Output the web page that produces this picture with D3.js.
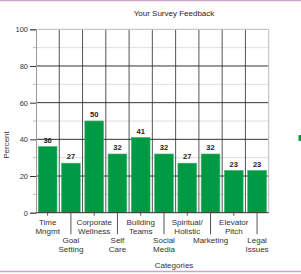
<!DOCTYPE html>
<html>
<head>
<meta charset="utf-8">
<script src="https://cdn.jsdelivr.net/npm/d3@7"></script>
<style>
  body { margin: 0; background: #fff; }
  svg { display: block; font-family: "Liberation Sans", Arial, sans-serif; }
</style>
</head>
<body>
<div id="chart"></div>
<script>
// survey chart data
const categories = [
  ['Time', 'Mngmt'], ['Goal', 'Setting'], ['Corporate', 'Wellness'], ['Self', 'Care'],
  ['Building', 'Teams'], ['Social', 'Media'], ['Spiritual/', 'Holistic'], ['Marketing'],
  ['Elevator', 'Pitch'], ['Legal', 'Issues']
];
const percents = [36, 27, 50, 32, 41, 32, 27, 32, 23, 23];
const yTicks = [0, 20, 40, 60, 80, 100];
const yMinor = [10, 30, 50, 70, 90];

const W = 301, H = 274;
const plotL = 36, plotR = 268.7, plotT = 29.3, plotB = 212.7;

const svg = d3.select('#chart').append('svg')
  .attr('width', W).attr('height', H);

// pinkish rules at the top and bottom of the image
svg.append('line').attr('x1', 0).attr('x2', W).attr('y1', 0.5).attr('y2', 0.5)
  .attr('stroke', '#c9a3c9').attr('stroke-width', 1.5);
svg.append('line').attr('x1', 0).attr('x2', W).attr('y1', 271.5).attr('y2', 271.5)
  .attr('stroke', '#c9a3c9').attr('stroke-width', 1.5);

const x = d3.scaleBand().domain(d3.range(categories.length)).range([plotL, plotR]).padding(0);
const y = d3.scaleLinear().domain([0, 100]).range([plotB, plotT]);

// minor horizontal grid
svg.append('g').selectAll('line').data(yMinor).join('line')
  .attr('x1', plotL).attr('x2', plotR)
  .attr('y1', d => y(d)).attr('y2', d => y(d))
  .attr('stroke', '#dedede').attr('stroke-width', 1);

// vertical grid at band edges
svg.append('g').selectAll('line').data(d3.range(1, categories.length)).join('line')
  .attr('x1', d => x(d)).attr('x2', d => x(d))
  .attr('y1', plotT).attr('y2', plotB)
  .attr('stroke', '#555').attr('stroke-width', 1);

// major horizontal grid
svg.append('g').selectAll('line').data(yTicks.filter(d => d > 0 && d < 100)).join('line')
  .attr('x1', plotL).attr('x2', plotR)
  .attr('y1', d => y(d)).attr('y2', d => y(d))
  .attr('stroke', '#333').attr('stroke-width', 1);

// plot frame (top / right)
svg.append('line').attr('x1', plotL).attr('x2', plotR).attr('y1', plotT).attr('y2', plotT)
  .attr('stroke', '#bbb');
svg.append('line').attr('x1', plotR).attr('x2', plotR).attr('y1', plotT).attr('y2', plotB)
  .attr('stroke', '#bbb');

// bars
svg.append('g').selectAll('rect').data(percents).join('rect')
  .attr('x', (d, i) => x(i) + 2.3)
  .attr('width', x.bandwidth() - 4.6)
  .attr('y', d => y(d))
  .attr('height', d => y(0) - y(d))
  .attr('fill', '#009944')
  .attr('stroke', '#3aae6a').attr('stroke-width', 0.6);

// value labels
svg.append('g').selectAll('text').data(percents).join('text')
  .attr('x', (d, i) => x(i) + x.bandwidth() / 2)
  .attr('y', d => y(d) - 4)
  .attr('text-anchor', 'middle')
  .attr('font-size', 7.5).attr('font-weight', 'bold').attr('fill', '#222')
  .text(d => d);

// y axis
const yAxis = svg.append('g')
  .attr('transform', `translate(${plotL},0)`)
  .call(d3.axisLeft(y).tickValues(yTicks).tickSize(6).tickPadding(2));
yAxis.select('.domain').attr('stroke', '#999');
yAxis.selectAll('.tick line').attr('stroke', '#333');
yAxis.selectAll('.tick text').attr('font-size', 7.5).attr('fill', '#333')
  .attr('font-family', '"Liberation Sans", Arial, sans-serif');
svg.append('g').selectAll('line').data(yMinor).join('line')
  .attr('x1', plotL - 3).attr('x2', plotL)
  .attr('y1', d => y(d)).attr('y2', d => y(d))
  .attr('stroke', '#bbb');

// x axis line
svg.append('line').attr('x1', plotL).attr('x2', plotR).attr('y1', plotB).attr('y2', plotB)
  .attr('stroke', '#333');

// staggered category labels and ticks
const catG = svg.append('g').selectAll('g').data(categories).join('g')
  .attr('transform', (d, i) => `translate(${x(i) + x.bandwidth() / 2},${plotB})`);
catG.append('line')
  .attr('y1', 0).attr('y2', (d, i) => i % 2 ? 21.5 : 3)
  .attr('stroke', '#555');
catG.each(function(d, i) {
  const g = d3.select(this);
  const y0 = i % 2 ? 30.5 : 11.9;
  d.forEach((line, k) => {
    g.append('text')
      .attr('y', y0 + k * 9.3)
      .attr('text-anchor', 'middle')
      .attr('font-size', 8).attr('fill', '#333')
      .text(line);
  });
});

// titles
svg.append('text').attr('x', 174).attr('y', 15.7).attr('text-anchor', 'middle')
  .attr('font-size', 8).attr('fill', '#222').text('Your Survey Feedback');
svg.append('text').attr('x', 174).attr('y', 267.7).attr('text-anchor', 'middle')
  .attr('font-size', 8).attr('fill', '#333').text('Categories');
svg.append('text')
  .attr('transform', 'translate(9,145) rotate(-90)')
  .attr('text-anchor', 'middle')
  .attr('font-size', 8).attr('fill', '#333').text('Percent');

// legend swatch, mostly cut off at the right edge
svg.append('rect').attr('x', 298.5).attr('y', 135).attr('width', 4).attr('height', 6)
  .attr('fill', '#009944');
</script>
</body>
</html>
